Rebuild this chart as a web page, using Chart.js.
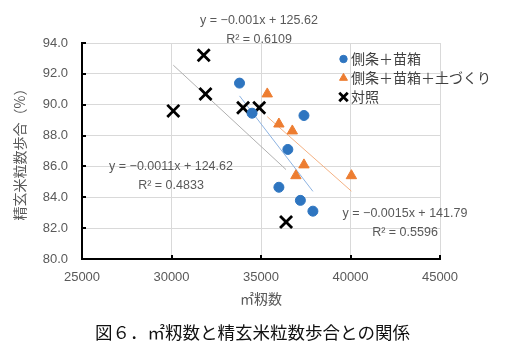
<!DOCTYPE html>
<html>
<head>
<meta charset="utf-8">
<script src="https://cdn.jsdelivr.net/npm/chart.js@4.4.0/dist/chart.umd.min.js"></script>
<style>
html,body{margin:0;padding:0;background:#fff;}
#wrap{width:506px;height:348px;}
</style>
</head>
<body>
<div id="wrap"><canvas id="c" width="506" height="348"></canvas></div>
<script>
// 側条＋苗箱
let sideX = [33800, 34500, 37400, 36500, 36000, 37200, 37900];
let sideY = [91.4, 89.45, 89.3, 87.1, 84.65, 83.8, 83.1];
// 側条＋苗箱＋土づくり
let soilX = [35350, 36000, 36750, 37400, 36950, 40050];
let soilY = [90.7, 88.75, 88.3, 86.1, 85.4, 85.4];
// 対照
let ctrlX = [31800, 31900, 30100, 34000, 34900, 36400];
let ctrlY = [93.2, 90.7, 89.6, 89.8, 89.8, 82.4];

let seriesNames = ['側条＋苗箱', '側条＋苗箱＋土づくり', '対照'];
let xTicks = [25000, 30000, 35000, 40000, 45000];
let yTicks = [80, 82, 84, 86, 88, 90, 92, 94];

// excel trendline labels
let eqSoil = ['y = −0.001x + 125.62', 'R² = 0.6109'];
let eqCtrl = ['y = −0.0011x + 124.62', 'R² = 0.4833'];
let eqSide = ['y = −0.0015x + 141.79', 'R² = 0.5596'];
let caption = '図６．㎡籾数と精玄米粒数歩合との関係';

const jp = "'Liberation Sans', 'Noto Sans CJK JP', sans-serif";

function pts(xs, ys){
    return xs.map((x, i) => ({x: x, y: ys[i]}));
}

// least squares line over the range of the series
function trend(xs, ys){
    let n = xs.length;
    let mx = xs.reduce((a, b) => a + b, 0) / n;
    let my = ys.reduce((a, b) => a + b, 0) / n;
    let sxy = 0, sxx = 0;
    xs.forEach((x, i) => {
        sxy += (x - mx) * (ys[i] - my);
        sxx += (x - mx) * (x - mx);
    });
    let b = sxy / sxx;
    let a = my - b * mx;
    let lo = Math.min(...xs), hi = Math.max(...xs);
    return [{x: lo, y: a + b * lo}, {x: hi, y: a + b * hi}];
}

function trendSet(xs, ys, color){
    return {
        type: 'line', data: trend(xs, ys), isTrend: true,
        borderColor: color, borderWidth: 1, pointRadius: 0,
        fill: false, order: 2
    };
}

let innerTicks = {
    id: 'innerTicks',
    afterDatasetsDraw(chart){
        let ctx = chart.ctx;
        let xs = chart.scales.x, ys = chart.scales.y;
        let area = chart.chartArea;
        ctx.save();
        ctx.strokeStyle = '#000';
        ctx.lineWidth = 2;
        ctx.beginPath();
        yTicks.forEach(v => {
            let p = Math.round(ys.getPixelForValue(v));
            ctx.moveTo(area.left, p);
            ctx.lineTo(area.left + 4, p);
        });
        xTicks.forEach(v => {
            let p = Math.round(xs.getPixelForValue(v));
            ctx.moveTo(p, area.bottom);
            ctx.lineTo(p, area.bottom - 4);
        });
        ctx.stroke();
        ctx.restore();
    }
};

let labels = {
    id: 'labels',
    afterDraw(chart){
        let ctx = chart.ctx;
        ctx.save();
        ctx.font = '12.5px ' + jp;
        ctx.fillStyle = '#595959';
        ctx.textAlign = 'center';
        ctx.textBaseline = 'middle';
        let put = (lines, x, y) => {
            ctx.fillText(lines[0], x, y);
            ctx.fillText(lines[1], x, y + 19);
        };
        put(eqSoil, 259, 21);
        put(eqCtrl, 171, 167);
        put(eqSide, 405, 214);

        // caption under the chart
        ctx.font = "17.5px 'Noto Sans CJK JP', sans-serif";
        ctx.fillStyle = '#111';
        ctx.fillText(caption, 252.5, 332);

        // legend
        let rowY = [59, 78, 97];
        ctx.font = '14px ' + jp;
        ctx.textAlign = 'left';
        ctx.fillStyle = '#404040';
        let points = chart.data.datasets.filter(d => !d.isTrend);
        points.forEach((ds, i) => {
            ctx.save();
            ctx.fillStyle = ds.backgroundColor;
            ctx.strokeStyle = ds.borderColor;
            ctx.lineWidth = ds.borderWidth;
            Chart.helpers.drawPoint(ctx, {
                pointStyle: ds.pointStyle,
                radius: ds.legendRadius,
                borderWidth: ds.borderWidth,
                rotation: 0
            }, 343.5, rowY[i]);
            ctx.restore();
            ctx.fillText(ds.label, 351, rowY[i] + 1);
        });
        ctx.restore();
    }
};

new Chart(document.getElementById('c'), {
    type: 'scatter',
    data: {
        datasets: [
            {
                label: seriesNames[0], data: pts(sideX, sideY),
                pointStyle: 'circle', pointRadius: 5, legendRadius: 3.7,
                backgroundColor: '#2E75C0', borderColor: '#2E75C0', borderWidth: 1, order: 1
            },
            {
                label: seriesNames[1], data: pts(soilX, soilY),
                pointStyle: 'triangle', pointRadius: 6, legendRadius: 4.6,
                backgroundColor: '#ED7D31', borderColor: '#ED7D31', borderWidth: 1, order: 1
            },
            {
                label: seriesNames[2], data: pts(ctrlX, ctrlY),
                pointStyle: 'crossRot', pointRadius: 8.5, legendRadius: 6,
                backgroundColor: '#000', borderColor: '#000', borderWidth: 2.8, order: 1
            },
            trendSet(sideX, sideY, '#8DB3E2'),
            trendSet(soilX, soilY, '#F4B183'),
            trendSet(ctrlX, ctrlY, '#B0B0B0')
        ]
    },
    options: {
        responsive: false,
        animation: false,
        devicePixelRatio: 1,
        layout: {padding: {top: 43, right: 66, left: 0, bottom: 38}},
        plugins: {
            legend: {display: false},
            tooltip: {enabled: false},
            title: {display: false}
        },
        scales: {
            x: {
                type: 'linear',
                min: xTicks[0], max: xTicks[xTicks.length - 1],
                afterBuildTicks: s => { s.ticks = xTicks.map(v => ({value: v})); },
                afterFit: s => { s.height = 348 - 259 - 38; },
                grid: {color: '#D9D9D9', lineWidth: 1, drawTicks: false},
                border: {color: '#000', width: 2},
                ticks: {
                    color: '#595959', padding: 11,
                    font: {family: jp, size: 13},
                    callback: v => String(v)
                },
                title: {
                    display: true, text: '㎡籾数', color: '#595959',
                    font: {family: "'Noto Sans CJK JP', sans-serif", size: 14},
                    padding: {top: 0, bottom: 3}
                }
            },
            y: {
                min: yTicks[0], max: yTicks[yTicks.length - 1],
                afterBuildTicks: s => { s.ticks = yTicks.map(v => ({value: v})); },
                afterFit: s => { s.width = 82; },
                grid: {color: '#D9D9D9', lineWidth: 1, drawTicks: false},
                border: {color: '#000', width: 2},
                ticks: {
                    color: '#595959', padding: 14,
                    font: {family: jp, size: 13},
                    callback: v => v.toFixed(1)
                },
                title: {
                    display: true, text: '精玄米粒数歩合（%）', color: '#595959',
                    font: {family: "'Noto Sans CJK JP', sans-serif", size: 14},
                    padding: {top: 11, bottom: 0}
                }
            }
        }
    },
    plugins: [innerTicks, labels]
});
</script>
</body>
</html>
